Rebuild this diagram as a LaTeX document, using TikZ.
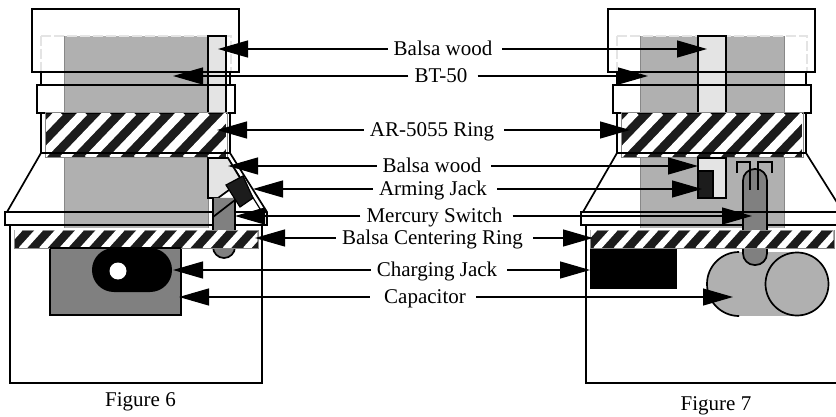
\documentclass[tikz,border=0pt]{standalone}
\usepackage{fontspec}
\setmainfont{Liberation Serif}
\usepackage{xcolor}
\usetikzlibrary{arrows.meta,positioning}
\definecolor{tubegrey}{HTML}{B0B0B0}
\definecolor{edgegrey}{HTML}{888888}
\definecolor{balsagrey}{HTML}{E4E4E4}
\definecolor{switchgrey}{HTML}{808080}
\definecolor{jackdark}{HTML}{1C1C1C}
\tikzset{
    >={Triangle[length=30pt,width=17pt]},
    x=1pt,
    y=-1pt,
    font=\fontsize{21}{25}\selectfont,
    part label/.style={inner xsep=6pt,inner ysep=0pt,text height=17pt,text depth=4pt},
    fig label/.style={anchor=base,inner sep=0pt},
    leader/.style={->,line width=1.3pt},
    leader right/.style={leader,shorten <=4pt},
    shell/.style={draw=black,fill=white,line width=1.7pt},
    outline/.style={draw=black,line width=1.7pt},
    wall/.style={draw=black,line width=1.2pt},
    balsa/.style={fill=balsagrey,draw=black,line width=1.7pt},
    switch/.style={fill=switchgrey,draw=black,line width=1.7pt},
    jack/.style={fill=jackdark,draw=black,line width=1.2pt}
}
% x0,y0,x1,y1,period,stripe width,first stripe
\newcommand{\hatchring}[7]{
    \fill[jackdark] (#1,#2) rectangle (#3,#4);
    \begin{scope}
        \clip (#1,#2) rectangle (#3,#4);
        \foreach \k in {0,...,16}
            \draw[white,line width=#6pt] (#7+\k*#5,#2-2) -- (#7+\k*#5-#4+#2-2,#4+2);
    \end{scope}
}

\begin{document}
\begin{tikzpicture}
    \useasboundingbox (0,0) rectangle (836,417);
    \clip (0,0) rectangle (836,417);
    % airframe, the same in both figures
    \foreach \figx/\stripa/\stripb in {0/208/226,576/122/150} {
        \begin{scope}[xshift=\figx]
            \draw[shell] (41,153) -- (7,212) -- (5,212) -- (5,225) -- (267,225) -- (267,212) -- (230,153) -- cycle;
            \draw[shell] (10,225) rectangle (262,383);
            \draw[shell] (32,9) rectangle (239,72);
            \draw[shell] (37,85) rectangle (235,113);
            \draw[wall] (41,72) -- (41,85) (230,72) -- (230,85);
            \draw[wall] (41,113) -- (41,153) (230,113) -- (230,153);
            \fill[tubegrey] (64,36) rectangle (208,228);
            \draw[edgegrey,line width=1pt] (64,36) -- (64,228) (208,36) -- (208,228);
            \draw[balsagrey,line width=1.5pt,dashed,dash pattern=on 10pt off 3pt] (41,36) -- (231,36) -- (231,72) (41,36) -- (41,72);
            \draw[balsa] (\stripa,36) rectangle (\stripb,113);
            \draw[outline] (32,72) -- (239,72) (37,85) -- (235,85) -- (235,113) -- (37,113) -- cycle;
            \draw[outline] (5,212) -- (267,212) (5,225) -- (267,225);
            \draw[edgegrey,line width=1pt] (45,113) rectangle (227,158);
            \hatchring{46}{114}{226}{157}{24.5}{8.5}{59.5}
            \draw[outline] (41,153) -- (230,153);
        \end{scope}
    }
    % figure 6 parts
    \draw[outline,line width=1.2pt] (228,158) -- (262,212);
    \draw[balsa] (208,198) -- (208,158) -- (228,158) -- (240,178) -- (229,190) -- (218,198) -- cycle;
    \draw[outline,fill=switchgrey,rounded corners=11pt] (213,198) -- (213,258) -- (235,258) -- (235,198);
    \draw[outline] (213,217) -- (235,200);
    \draw[jack] (226,185) -- (243,176) -- (253,198) -- (240,207) -- cycle;
    \draw[outline,fill=switchgrey] (50,248) rectangle (181,315);
    \fill[rounded corners=21.9pt] (92,248) rectangle (172,292);
    \fill[white] (118,271) circle[radius=8.5];
    % figure 7 parts
    \draw[balsa] (698,158) rectangle (726,198);
    \draw[jack] (698,171) rectangle (713,198);
    \fill (590,248) rectangle (677,289);
    \fill[tubegrey] (738,252) rectangle (797,316);
    \draw[outline,fill=tubegrey,rounded corners=32pt] (738,252) -- (707,252) -- (707,316) -- (738,316);
    \draw[outline,fill=tubegrey] (797,284) circle[radius=31.5];
    \draw[switch,rounded corners=11.5pt] (743,169) rectangle (767,265);
    \draw[outline,line width=1.4pt] (737,173) -- (737,162) -- (750,162) -- (750,190);
    \draw[outline,line width=1.4pt] (772,173) -- (772,162) -- (758,162) -- (758,190);
    \draw[outline] (581,212) -- (836,212);
    % centering rings
    \draw[edgegrey,line width=1pt] (14,230) rectangle (258,248);
    \hatchring{14.5}{230.5}{257.5}{247.5}{20.4}{6.5}{20}
    \draw[edgegrey,line width=1pt] (590,230) rectangle (834,248);
    \hatchring{590.5}{230.5}{833.5}{247.5}{20.4}{6.5}{594.6}
    \draw[outline] (50,248) -- (181,248);
    % arrow ends
    \coordinate (balsaA6) at (218,49);
    \coordinate (balsaA7) at (707,49);
    \coordinate (bt6) at (173,76);
    \coordinate (bt7) at (648,76);
    \coordinate (ring6) at (217,130);
    \coordinate (ring7) at (630,130);
    \coordinate (balsaB6) at (228,166);
    \coordinate (balsaB7) at (698,166);
    \coordinate (arming6) at (253,189);
    \coordinate (arming7) at (702,189);
    \coordinate (mercury6) at (235,216);
    \coordinate (mercury7) at (752,216);
    \coordinate (center6) at (255,238);
    \coordinate (center7) at (593,238);
    \coordinate (charging6) at (173,270);
    \coordinate (charging7) at (590,270);
    \coordinate (capacitor6) at (179,297);
    \coordinate (capacitor7) at (733,297);
    % labels
    \node[part label] (balsaA) at (443,49) {Balsa wood};
    \node[part label] (bt) at (441,76) {BT-50};
    \node[part label] (ring) at (432,130) {AR-5055 Ring};
    \node[part label] (balsaB) at (432,166) {Balsa wood};
    \node[part label] (arming) at (433,189) {Arming Jack};
    \node[part label] (mercury) at (434.5,216) {Mercury Switch};
    \node[part label] (center) at (432.5,238) {Balsa Centering Ring};
    \node[part label] (charging) at (437,270) {Charging Jack};
    \node[part label] (capacitor) at (425,297) {Capacitor};
    \node[fig label] (fig6) at (140.5,406) {Figure 6};
    \node[fig label] (fig7) at (716,410) {Figure 7};
    \path
        (balsaA) edge [leader] (balsaA6)
        (balsaA) edge [leader right] (balsaA7)
        (bt) edge [leader] (bt6)
        (bt) edge [leader right] (bt7)
        (ring) edge [leader] (ring6)
        (ring) edge [leader right] (ring7)
        (balsaB) edge [leader] (balsaB6)
        (balsaB) edge [leader right] (balsaB7)
        (arming) edge [leader] (arming6)
        (arming) edge [leader right] (arming7)
        (mercury) edge [leader] (mercury6)
        (mercury) edge [leader right] (mercury7)
        (center) edge [leader] (center6)
        (center) edge [leader right] (center7)
        (charging) edge [leader] (charging6)
        (charging) edge [leader right] (charging7)
        (capacitor) edge [leader, shorten <=8pt] (capacitor6)
        (capacitor) edge [leader right] (capacitor7)
        ;
\end{tikzpicture}
\end{document}
